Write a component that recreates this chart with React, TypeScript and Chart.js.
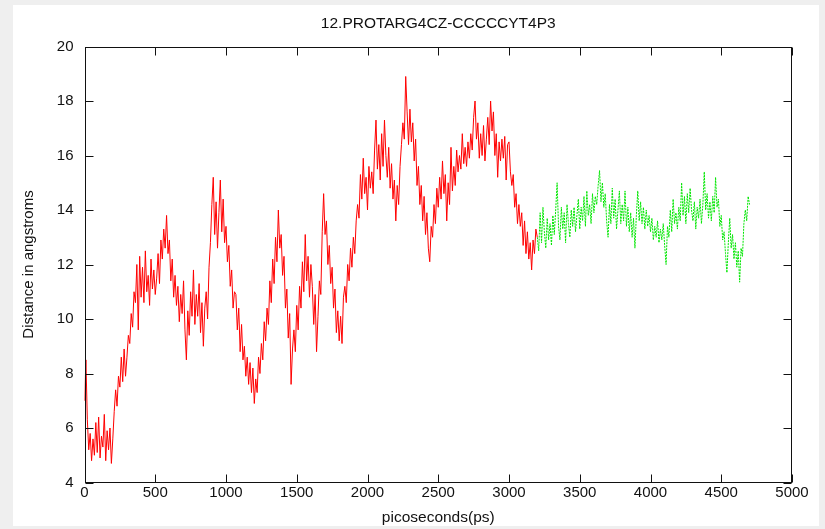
import React, { useEffect, useRef } from "react";
import { Chart, registerables } from "chart.js";

Chart.register(...registerables);

const TITLE = "12.PROTARG4CZ-CCCCCYT4P3";
const X_LABEL = "picoseconds(ps)";
const Y_LABEL = "Distance in angstroms";
const X_TICKS = [0, 500, 1000, 1500, 2000, 2500, 3000, 3500, 4000, 4500, 5000];
const Y_TICKS = [4, 6, 8, 10, 12, 14, 16, 18, 20];

const STEP_PS = 10;
const RED_START = 0;
const RED_VALUES = [
  7.0, 8.5, 6.3, 5.2, 5.8, 4.8, 5.6, 5.0, 6.2, 5.1,
  6.4, 4.9, 5.7, 5.3, 6.5, 4.8, 5.9, 5.2, 6.0, 4.7,
  5.6, 6.6, 7.4, 6.8, 7.9, 7.5, 8.6, 7.7, 8.9, 7.9,
  8.6, 9.4, 9.1, 10.2, 9.7, 11.0, 10.6, 12.0, 9.6, 12.3,
  10.8, 11.9, 10.6, 12.5, 11.0, 11.6, 10.5, 12.2, 11.1, 11.8,
  10.9, 11.5, 12.4, 11.3, 12.9, 12.2, 13.3, 12.6, 13.8, 12.4,
  12.9, 11.4, 12.2, 10.8, 11.6, 10.5, 11.2, 9.9, 10.9, 10.2,
  11.4, 9.6, 8.5, 10.3, 9.4, 11.0, 10.1, 11.8, 9.8, 10.9,
  10.1, 11.3, 9.5, 10.6, 9.0, 10.4, 11.0, 10.0, 11.9, 12.8,
  14.2, 15.2, 13.1, 14.3, 12.6, 13.9, 15.1, 13.2, 14.4, 12.8,
  13.4, 12.1, 12.7, 11.2, 11.8, 10.4, 11.0, 10.9, 9.6, 10.4,
  8.8, 9.8, 8.5, 9.0, 7.9, 8.6, 7.6, 8.4, 7.3, 8.2,
  6.9, 7.8, 7.3, 8.6, 8.0, 9.1, 8.5, 9.9, 9.2, 10.4,
  9.8, 11.4, 10.6, 12.2, 11.3, 13.0, 12.1, 14.0, 12.6, 13.1,
  11.6, 12.3, 10.4, 11.1, 9.3, 10.2, 7.6, 8.9, 9.6, 8.8,
  10.5, 9.6, 11.2, 10.4, 12.1, 11.0, 13.1, 11.4, 12.3, 10.8,
  12.0, 11.2, 9.8, 10.9, 8.8, 10.1, 11.4, 10.9, 13.2, 14.6,
  13.1, 13.6, 12.0, 12.7, 11.3, 11.9, 10.4, 11.1, 9.5, 10.3,
  9.2, 10.1, 9.1, 10.8, 11.2, 10.6, 12.0, 11.4, 12.6, 11.9,
  13.0, 12.4, 13.6, 14.2, 13.7, 15.3, 14.4, 15.9, 14.6, 15.2,
  14.0, 15.6, 14.8, 15.4, 14.6, 16.2, 17.3, 15.5, 16.4, 15.1,
  16.8, 15.6, 17.3, 16.0, 15.2, 16.3, 14.8, 15.7, 14.4, 15.1,
  13.6, 14.9, 14.2, 15.6, 16.4, 17.2, 16.6, 18.9, 17.6, 16.4,
  17.7, 16.5, 17.2, 15.8, 16.6, 14.9, 15.6, 14.2, 14.9, 13.6,
  14.5, 13.1, 13.9, 12.6, 12.1, 13.4, 13.0, 14.2, 13.5, 14.8,
  14.1, 15.2, 14.4, 15.8, 14.6, 15.3, 13.6, 15.0, 14.2, 16.3,
  14.7, 15.6, 14.9, 16.2, 15.4, 16.0, 15.5, 16.8, 15.7, 16.3,
  15.6, 16.5, 15.9, 16.8, 16.2, 17.4, 18.0, 16.6, 17.2, 15.9,
  16.8, 16.0, 17.1, 15.8, 16.6, 17.4, 16.4, 18.0, 16.9, 17.6,
  16.0, 16.8, 15.2, 16.5, 15.8, 16.6, 15.9, 16.7, 15.1, 16.4,
  16.5, 15.4, 14.9, 15.3, 14.1, 14.6, 13.5, 14.2, 13.4, 13.9,
  12.7, 13.6, 12.4, 13.2, 12.2, 12.8, 11.8, 12.9, 12.4, 13.3,
  13.0,
];

const GREEN_START = 3200;
const GREEN_VALUES = [
  13.0, 12.5, 13.9, 12.8, 14.1, 13.2, 12.6, 13.7, 12.9, 13.5,
  12.7, 13.8, 13.1, 14.0, 15.0, 13.4, 12.9, 14.1, 13.3, 13.9,
  12.8, 14.2, 13.5, 13.0, 14.0, 13.4, 14.1, 13.2, 13.8, 14.4,
  13.3, 14.1, 13.6, 14.5, 13.4, 14.7, 13.8, 14.2, 13.5, 14.6,
  13.9, 14.5, 14.2, 14.9, 15.45, 14.3, 15.0, 14.1, 14.6, 13.6,
  13.0, 14.2, 13.5, 14.8, 13.7, 14.4, 13.3, 14.0, 14.7, 13.5,
  14.2, 13.6, 14.7, 13.4, 14.1, 13.2, 13.9, 13.0, 13.7, 12.6,
  13.8, 14.7, 13.6, 14.3, 13.5, 14.1, 13.3, 14.0, 13.4, 13.8,
  13.2, 13.7, 12.9, 13.4, 13.0, 13.6, 12.8, 13.3, 12.9, 13.5,
  12.7, 12.0, 13.4, 13.0, 14.0, 13.2, 14.4, 13.5, 13.9, 13.3,
  14.1, 13.6, 15.0, 13.8, 14.5, 13.5, 14.6, 13.9, 14.8, 14.0,
  13.6, 14.3, 13.3, 14.1, 13.7, 14.4, 13.5, 14.2, 15.4, 14.0,
  14.6, 13.7, 14.3, 13.6, 14.5, 13.9, 15.2, 14.1, 14.4, 13.4,
  13.8, 12.9, 13.2, 12.4, 11.7, 12.8, 13.7, 12.6, 13.1, 12.2,
  12.8, 11.9, 12.5, 11.35, 12.6, 12.3, 13.5, 14.0, 13.6, 14.5,
  14.2,
];

const FONT = '"Liberation Sans", Arial, Helvetica, sans-serif';

function toPoints(start: number, values: number[]) {
  return values.map((v, i) => ({ x: start + i * STEP_PS, y: v }));
}

const titlePlugin = {
  id: "centeredTitle",
  afterDraw(chart: any) {
    const { ctx, chartArea: a } = chart;
    ctx.save();
    ctx.fillStyle = "#111";
    ctx.font = `15.5px ${FONT}`;
    ctx.textAlign = "center";
    ctx.textBaseline = "middle";
    ctx.fillText(TITLE, (a.left + a.right) / 2, 24);
    ctx.restore();
  },
};

const framePlugin = {
  id: "gnuplotFrame",
  afterDatasetsDraw(chart: any) {
    const { ctx, chartArea: a, scales } = chart;
    const xs = scales.x;
    const ys = scales.y;
    const L = Math.round(a.left) + 0.5;
    const R = Math.round(a.right) - 0.5;
    const T = Math.round(a.top) + 0.5;
    const B = Math.round(a.bottom) - 0.5;
    const len = 8;
    ctx.save();
    ctx.strokeStyle = "#111";
    ctx.lineWidth = 1;
    ctx.beginPath();
    X_TICKS.forEach((v) => {
      const px = Math.round(xs.getPixelForValue(v)) + 0.5;
      ctx.moveTo(px, B);
      ctx.lineTo(px, B - len);
      ctx.moveTo(px, T);
      ctx.lineTo(px, T + len);
    });
    Y_TICKS.forEach((v) => {
      const py = Math.round(ys.getPixelForValue(v)) + 0.5;
      ctx.moveTo(L, py);
      ctx.lineTo(L + len, py);
      ctx.moveTo(R, py);
      ctx.lineTo(R - len, py);
    });
    ctx.stroke();
    ctx.strokeRect(L, T, R - L, B - T);
    ctx.restore();
  },
};

export default function App() {
  const ref = useRef<HTMLCanvasElement | null>(null);

  useEffect(() => {
    if (!ref.current) return;
    const chart = new Chart(ref.current, {
      type: "line",
      data: {
        datasets: [
          {
            data: toPoints(RED_START, RED_VALUES),
            borderColor: "#ff0000",
            borderWidth: 1,
            pointRadius: 0,
            tension: 0,
            fill: false,
          },
          {
            data: toPoints(GREEN_START, GREEN_VALUES),
            borderColor: "#00e600",
            borderWidth: 1,
            borderDash: [2, 1],
            pointRadius: 0,
            tension: 0,
            fill: false,
          },
        ],
      },
      options: {
        animation: false,
        responsive: false,
        devicePixelRatio: 1,
        layout: { padding: { left: 0, right: 33, top: 46.5, bottom: 0 } },
        plugins: {
          legend: { display: false },
          tooltip: { enabled: false },
          title: { display: false },
        },
        scales: {
          x: {
            type: "linear",
            min: 0,
            max: 5000,
            afterFit: (s: any) => {
              s.height = 46.5;
            },
            afterBuildTicks: (s: any) => {
              s.ticks = X_TICKS.map((v) => ({ value: v }));
            },
            ticks: {
              autoSkip: false,
              maxRotation: 0,
              padding: 1,
              color: "#111",
              font: { family: FONT, size: 15 },
              callback: (v: any) => String(v),
            },
            grid: { display: false, drawTicks: false },
            border: { display: false },
            title: {
              display: true,
              text: X_LABEL,
              color: "#111",
              font: { family: FONT, size: 15.5 },
              padding: { top: 0, bottom: 2 },
            },
          },
          y: {
            type: "linear",
            min: 4,
            max: 20,
            afterFit: (s: any) => {
              s.width = 84.5;
            },
            afterBuildTicks: (s: any) => {
              s.ticks = Y_TICKS.map((v) => ({ value: v }));
            },
            ticks: {
              padding: 11,
              color: "#111",
              font: { family: FONT, size: 15 },
              callback: (v: any) => String(v),
            },
            grid: { display: false, drawTicks: false },
            border: { display: false },
            title: {
              display: true,
              text: Y_LABEL,
              color: "#111",
              font: { family: FONT, size: 15 },
              padding: { top: 20, bottom: 0 },
            },
          },
        },
      },
      plugins: [framePlugin, titlePlugin],
    } as any);
    return () => chart.destroy();
  }, []);

  return (
    <div
      style={{
        position: "absolute",
        left: 0,
        top: 0,
        width: 825,
        height: 529,
        background: "#efefef",
        overflow: "hidden",
      }}
    >
      <div
        style={{
          position: "absolute",
          left: 13,
          top: 5,
          width: 806,
          height: 521,
          background: "#ffffff",
        }}
      />
      <canvas
        ref={ref}
        width={825}
        height={529}
        style={{ position: "absolute", left: 0, top: 0, width: 825, height: 529 }}
      />
    </div>
  );
}
